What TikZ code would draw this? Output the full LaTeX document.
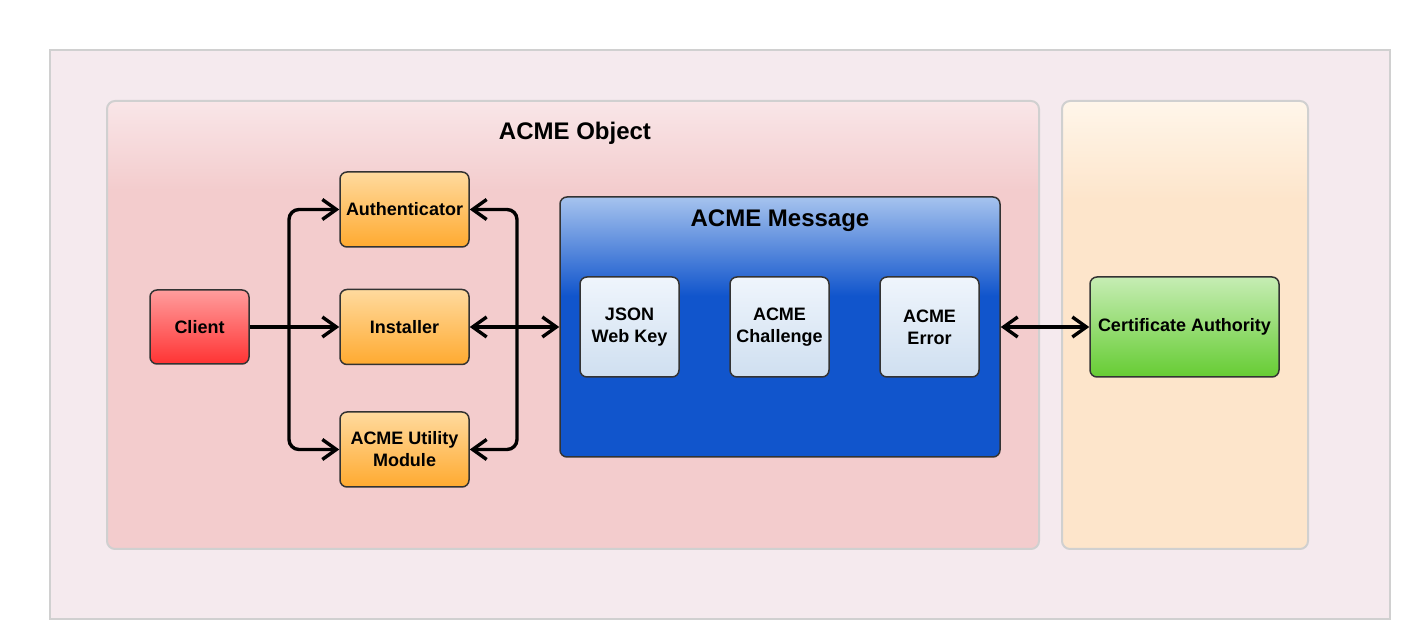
\documentclass[tikz,border=0pt]{standalone}
\usepackage{fontspec}
\setmainfont{Liberation Sans}
\usetikzlibrary{arrows.meta}

\definecolor{outerbg}{HTML}{F5EAEE}
\definecolor{objtop}{HTML}{F9E6E8}
\definecolor{objbot}{HTML}{F3CCCD}
\definecolor{catop}{HTML}{FFF6EA}
\definecolor{cabot}{HTML}{FDE5CB}
\definecolor{msgtop}{HTML}{A6C3EE}
\definecolor{msgbot}{HTML}{1155CC}
\definecolor{panelline}{HTML}{D0D0D0}
\definecolor{boxline}{HTML}{333333}
\definecolor{redtop}{HTML}{FF9D9D}
\definecolor{redbot}{HTML}{FF3333}
\definecolor{ortop}{HTML}{FFDA9E}
\definecolor{orbot}{HTML}{FFAA30}
\definecolor{keytop}{HTML}{EFF5FC}
\definecolor{keybot}{HTML}{CFDFF0}
\definecolor{grtop}{HTML}{C6EDB4}
\definecolor{grbot}{HTML}{66CC33}

\pgfdeclareverticalshading{objshade}{100bp}{color(0bp)=(objbot); color(65bp)=(objbot); color(75bp)=(objtop); color(100bp)=(objtop)}
\pgfdeclareverticalshading{cashade}{100bp}{color(0bp)=(cabot); color(64bp)=(cabot); color(75bp)=(catop); color(100bp)=(catop)}
\pgfdeclareverticalshading{msgshade}{100bp}{color(0bp)=(msgbot); color(56bp)=(msgbot); color(75bp)=(msgtop); color(100bp)=(msgtop)}

\begin{document}
\begin{tikzpicture}[x=0.5pt,y=-0.5pt,
    panel/.style={draw=panelline,line width=1pt,rounded corners=4pt,inner sep=0pt},
    box/.style={draw=boxline,line width=0.75pt,rounded corners=3.5pt,inner sep=0pt,
      align=center,font=\fontsize{9}{11}\selectfont\bfseries},
    title/.style={font=\fontsize{12}{14}\selectfont\bfseries},
    link/.style={line width=1.7pt,-{Straight Barb[length=7pt,width=10pt]}},
    dlink/.style={line width=1.7pt,{Straight Barb[length=7pt,width=10pt]}-{Straight Barb[length=7pt,width=10pt]}}]
    \useasboundingbox (0,0) rectangle (1409,640);
    % Panels
    \node[draw=panelline,line width=1pt,fill=outerbg,minimum width=670pt,minimum height=284.5pt] (outer) at (720,334.5) {};
    \node[panel,shading=objshade,shade,minimum width=466pt,minimum height=224pt] (object) at (573,325) {};
    \node[panel,shading=cashade,shade,minimum width=123pt,minimum height=224pt] (authority) at (1185,325) {};
    \node[title] (objtitle) at (575,133) {ACME Object};
    % Client side
    \node[box,top color=redtop,bottom color=redbot,minimum width=49.5pt,minimum height=37pt] (client) at (199.5,327) {Client};
    \foreach \name/\y/\txt in {auth/209.5/Authenticator,inst/327/Installer,util/449.5/{ACME Utility\\Module}}
      \node[box,top color=ortop,bottom color=orbot,minimum width=64.5pt,minimum height=37.5pt] (\name) at (404.5,\y) {\txt};
    % Message
    \node[draw=boxline,line width=0.75pt,rounded corners=3.5pt,shading=msgshade,shade,minimum width=220pt,minimum height=130pt] (msg) at (780,327) {};
    \node[title] (msgtitle) at (780,221) {ACME Message};
    \foreach \name/\x/\txt in {jwk/629.5/{JSON\\Web Key},chal/779.5/{ACME\\Challenge},err/929.5/{ACME\\Error}}
      \node[box,top color=keytop,bottom color=keybot,minimum width=49.5pt,minimum height=50pt] (\name) at (\x,327) {\txt};
    % Certificate authority
    \node[box,top color=grtop,bottom color=grbot,minimum width=94.5pt,minimum height=50pt] (ca) at (1184.5,327) {Certificate Authority};
    % Connectors
    \coordinate (split) at (289,327);
    \coordinate (join) at (517,327);
    \draw[link] (client) -- (inst);
    \draw[link,rounded corners=5pt] (split) |- (auth.west);
    \draw[link,rounded corners=5pt] (split) |- (util.west);
    \draw[dlink] (inst) -- (msg);
    \draw[link,rounded corners=5pt] (join) |- (auth.east);
    \draw[link,rounded corners=5pt] (join) |- (util.east);
    \draw[dlink] (msg) -- (ca);
\end{tikzpicture}
\end{document}
